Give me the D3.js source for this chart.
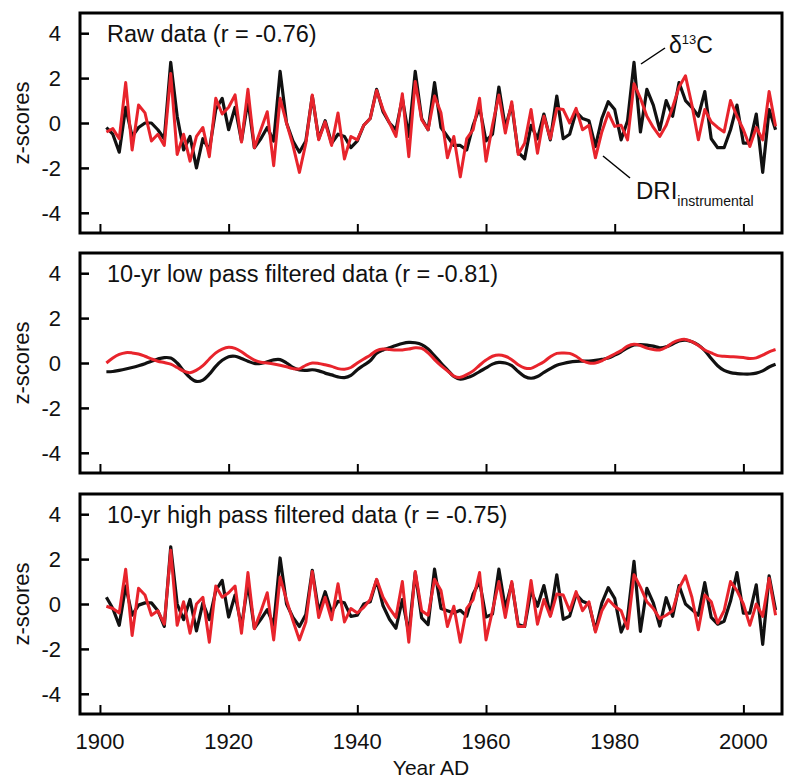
<!DOCTYPE html>
<html>
<head>
<meta charset="utf-8">
<script src="https://cdn.jsdelivr.net/npm/d3@7"></script>
<style>
  body { margin: 0; background: #fff; }
  text { font-family: "Liberation Sans", Arial, sans-serif; fill: #111; }
</style>
</head>
<body>
<div id="container"></div>
<script>
// years 1901..2005
const startYear = 1901;

const rawD13C = [-0.2, -0.5, -1.3, 0.7, -0.6, -0.2, 0.0, 0.0, -0.3, -0.7,
  2.7, 0.3, -1.2, -0.6, -2.0, -0.7, -1.2, 0.6, 1.1, -0.3,
  0.7, -0.8, 1.0, -1.1, -0.7, -0.2, -0.8, 2.3, 0.0, -0.8,
  -1.3, -0.8, 1.2, -0.7, 0.1, -0.9, -0.5, -0.6, -1.1, -0.8,
  -0.1, 0.2, 1.5, 0.5, 0.0, -0.3, 1.1, -0.6, 2.3, 0.2,
  -0.3, 1.8, -0.2, -0.6, -1.0, -1.0, -1.2, -0.1, 0.7, -0.8,
  -0.5, 1.6, -0.2, 0.8, -1.3, -1.6, -0.1, -0.7, 0.4, -0.75,
  1.2, -0.7, -0.5, 0.5, 0.2, 0.1, -1.05, 0.2, 0.95, 0.6,
  -0.75, 0.1, 2.7, -0.4, 1.5, 0.8, -0.3, 1.0, 0.3, 1.8,
  1.0, 0.7, 0.3, 1.4, -0.7, -1.1, -1.1, -0.3, 0.8, -0.9,
  -0.9, 0.4, -2.2, 0.6, -0.3];

const rawDRI = [-0.4, -0.25, -0.7, 1.8, -1.2, 0.8, 0.45, -0.8, -0.5, -1.0,
  2.2, -1.4, -0.5, -1.7, -0.6, -0.2, -1.5, 1.1, 0.4, 0.7,
  1.25, -0.85, 1.5, -1.1, -0.3, 0.5, -1.9, 1.1, 0.0, -1.0,
  -2.2, -0.9, 1.25, -0.75, 0.05, -1.0, 0.45, -1.6, -0.6, -0.75,
  -0.1, 0.2, 1.45, 0.6, 0.0, -0.6, 1.3, -1.5, 1.85, 0.15,
  -0.3, 1.2, 0.45, -1.55, -0.6, -2.4, -0.7, -0.3, 1.1, -1.7,
  -0.1, 1.25, -0.45, 0.95, -1.4, -0.9, 0.6, -1.35, 0.3, -0.7,
  0.65, 0.6, 0.0, 0.65, -0.3, -0.1, -1.55, -0.4, 0.45, -0.15,
  -0.1, -0.75, 1.75, 1.1, 0.3, -0.2, -0.6, -0.1, 0.7, 1.6,
  2.1, 0.8, -0.75, 0.6, 0.05, -0.2, -0.4, 1.0, 0.3, -0.3,
  -1.05, -0.2, -0.75, 1.4, -0.15];

const lowD13C = [-0.39, -0.38, -0.33, -0.27, -0.2, -0.12, -0.03, 0.08, 0.18, 0.24,
  0.22, 0.0, -0.35, -0.65, -0.82, -0.76, -0.5, -0.15, 0.12, 0.28,
  0.3, 0.2, 0.08, -0.02, -0.02, 0.05, 0.14, 0.15, 0.0, -0.2,
  -0.31, -0.33, -0.3, -0.35, -0.45, -0.53, -0.62, -0.65, -0.55, -0.3,
  -0.1, 0.1, 0.43, 0.58, 0.68, 0.78, 0.87, 0.92, 0.9, 0.82,
  0.62, 0.32, 0.0, -0.3, -0.6, -0.72, -0.66, -0.55, -0.38, -0.22,
  -0.05, 0.03, 0.0, -0.12, -0.38, -0.6, -0.68, -0.6, -0.42, -0.25,
  -0.1, -0.02, 0.04, 0.07, 0.08, 0.09, 0.12, 0.16, 0.22, 0.35,
  0.5, 0.68, 0.8, 0.82, 0.8, 0.75, 0.68, 0.72, 0.85, 0.98,
  1.02, 0.95, 0.8, 0.55, 0.2, -0.12, -0.33, -0.43, -0.47, -0.49,
  -0.49, -0.45, -0.35, -0.18, -0.06];

const lowDRI = [0.0, 0.22, 0.38, 0.46, 0.45, 0.4, 0.3, 0.18, 0.08, 0.02,
  -0.05, -0.2, -0.36, -0.43, -0.32, -0.12, 0.18, 0.45, 0.62, 0.7,
  0.65, 0.5, 0.3, 0.13, 0.03, 0.0, -0.04, -0.1, -0.17, -0.25,
  -0.26, -0.1, 0.0, -0.02, -0.08, -0.15, -0.25, -0.28, -0.2, 0.0,
  0.18, 0.35, 0.55, 0.62, 0.6, 0.58, 0.58, 0.62, 0.68, 0.65,
  0.45, 0.15, -0.12, -0.35, -0.58, -0.64, -0.52, -0.35, -0.1, 0.13,
  0.3, 0.36, 0.3, 0.15, -0.08, -0.22, -0.24, -0.1, 0.06, 0.28,
  0.43, 0.45, 0.43, 0.3, 0.1, 0.0, 0.0, 0.1, 0.25, 0.4,
  0.55, 0.75, 0.83, 0.78, 0.66, 0.6, 0.58, 0.7, 0.9, 1.02,
  1.05, 0.95, 0.78, 0.58, 0.45, 0.33, 0.3, 0.28, 0.27, 0.24,
  0.2, 0.23, 0.35, 0.5, 0.6];

const highD13C = [0.3, -0.2, -0.95, 0.8, -0.5, -0.05, 0.05, 0.05, -0.3, -1.0,
  2.55, 0.0, -0.7, 0.2, -1.2, 0.05, -0.7, 0.6, 1.05, -0.58,
  0.4, -1.0, 0.92, -1.08, -0.68, -0.25, -0.94, 2.05, 0.0, -0.6,
  -1.0, -0.47, 1.5, -0.35, 0.55, -0.37, 0.12, 0.05, -0.55, -0.5,
  0.0, 0.1, 1.07, -0.08, -0.68, -1.08, 0.2, -1.3, 1.4, -0.62,
  -0.92, 1.55, -0.2, -0.3, -0.4, -0.28, -0.54, 0.45, 1.0, -0.58,
  -0.45, 1.55, -0.2, 0.92, -0.92, -1.0, 0.58, -0.1, 0.82, -0.5,
  1.3, -0.68, -0.54, 0.43, 0.12, 0.0, -1.17, 0.04, 0.73, 0.25,
  -1.25, -0.6, 1.9, -1.22, 0.7, 0.05, -0.98, 0.28, -0.55, 0.82,
  0.0, -0.25, -0.5, 0.95, -0.6, -0.9, -0.77, 0.13, 1.4, -0.41,
  -0.41, 0.85, -1.8, 1.25, -0.27];

const highDRI = [-0.1, -0.2, -0.4, 1.55, -1.4, 0.7, 0.4, -0.5, -0.3, -0.9,
  2.4, -0.95, 0.1, -1.3, 0.0, 0.3, -1.7, 0.8, 0.3, 0.5,
  0.8, -1.3, 1.4, -1.1, -0.33, 0.5, -1.6, 1.2, 0.17, -0.75,
  -1.6, -0.8, 1.45, -0.6, 0.3, -0.7, 0.9, -0.8, -0.2, -0.4,
  -0.15, 0.2, 1.1, 0.3, -0.2, -0.6, 1.0, -1.7, 1.45, -0.3,
  -0.5, 1.1, 0.6, -1.0, -0.1, -1.7, -0.2, 0.2, 1.4, -1.6,
  -0.3, 1.0, -0.6, 1.0, -1.0, -1.0, 1.05, -0.9, 0.2, -0.55,
  0.45, 0.4, -0.3, 0.55, -0.3, 0.1, -1.25, -0.3, 0.2, -0.1,
  -0.3, -1.1, 1.3, 0.75, 0.1, -0.2, -0.65, -0.5, -0.3, 0.7,
  1.25, 0.3, -1.15, 0.4, 0.1, -0.85, -0.3, 1.0, 0.6, 0.0,
  -0.95, 0.0, -0.55, 1.15, -0.5];

const panelTitles = [
  'Raw data (r = -0.76)',
  '10-yr low pass filtered data (r = -0.81)',
  '10-yr high pass filtered data (r = -0.75)'
];
const yTicks = [-4, -2, 0, 2, 4];
const xTicks = [1900, 1920, 1940, 1960, 1980, 2000];

const w = 789;
const h = 781;
const left = 80;
const right = 782;
const panelTops = [13, 253, 494];
const panelH = 220;

const svg = d3.select('#container')
  .append('svg')
    .attr('width', w)
    .attr('height', h)
    .attr('viewBox', [0, 0, w, h]);

const x = d3.scaleLinear()
  .domain([1896.9, 2006.0])
  .range([left, right]);

const panels = [
  { black: rawD13C, red: rawDRI, curve: d3.curveLinear },
  { black: lowD13C, red: lowDRI, curve: d3.curveCatmullRom },
  { black: highD13C, red: highDRI, curve: d3.curveLinear }
];

const red = '#e8242c';

panels.forEach((p, i) => {
  const top = panelTops[i];
  const y = d3.scaleLinear()
    .domain([-4.9, 4.9])
    .range([top + panelH, top]);

  const g = svg.append('g');

  // y axis, ticks pointing in
  g.append('g')
    .attr('transform', 'translate(' + left + ', 0)')
    .call(d3.axisRight(y).tickValues(yTicks).tickSize(9).tickFormat(''))
    .call(a => a.select('.domain').remove())
    .call(a => a.selectAll('line').attr('stroke', '#000').attr('stroke-width', 2.5));

  g.selectAll('.ylab')
    .data(yTicks)
    .enter()
    .append('text')
    .attr('x', 61)
    .attr('y', d => y(d))
    .attr('dy', '0.36em')
    .attr('text-anchor', 'end')
    .style('font-size', '22px')
    .text(d => d);

  // x axis ticks pointing up
  g.append('g')
    .attr('transform', 'translate(0, ' + (top + panelH) + ')')
    .call(d3.axisTop(x).tickValues(xTicks).tickSize(9).tickFormat(''))
    .call(a => a.select('.domain').remove())
    .call(a => a.selectAll('line').attr('stroke', '#000').attr('stroke-width', 2));

  g.append('text')
    .attr('transform', 'rotate(-90)')
    .attr('x', -(top + panelH / 2))
    .attr('y', 29)
    .attr('text-anchor', 'middle')
    .style('font-size', '22px')
    .text('z-scores');

  const line = d3.line()
    .x((d, j) => x(startYear + j))
    .y(d => y(d))
    .curve(p.curve);

  g.append('path')
    .datum(p.black)
    .attr('d', line)
    .attr('fill', 'none')
    .attr('stroke', '#111')
    .attr('stroke-width', 3.2)
    .attr('stroke-linejoin', 'round');

  g.append('path')
    .datum(p.red)
    .attr('d', line)
    .attr('fill', 'none')
    .attr('stroke', red)
    .attr('stroke-width', 3)
    .attr('stroke-linejoin', 'round');

  g.append('rect')
    .attr('x', left)
    .attr('y', top)
    .attr('width', right - left)
    .attr('height', panelH)
    .attr('fill', 'none')
    .attr('stroke', '#000')
    .attr('stroke-width', 3);

  g.append('text')
    .attr('x', 107)
    .attr('y', top + 29)
    .style('font-size', '23.5px')
    .text(panelTitles[i]);

  if (i === 2) {
    g.selectAll('.xlab')
      .data(xTicks)
      .enter()
      .append('text')
      .attr('x', d => x(d))
      .attr('y', 749)
      .attr('text-anchor', 'middle')
      .style('font-size', '22px')
      .text(d => d);
  }
});

// annotations in the raw panel
svg.append('line')
  .attr('x1', 641).attr('y1', 64)
  .attr('x2', 665).attr('y2', 48)
  .attr('stroke', '#000').attr('stroke-width', 1.5);

const d13 = svg.append('text')
  .attr('x', 669)
  .attr('y', 53)
  .style('font-size', '23px');
d13.append('tspan').text('δ');
d13.append('tspan').attr('dy', -9).style('font-size', '13px').text('13');
d13.append('tspan').attr('dy', 9).text('C');

svg.append('line')
  .attr('x1', 603).attr('y1', 156)
  .attr('x2', 630).attr('y2', 178)
  .attr('stroke', '#000').attr('stroke-width', 1.5);

const dri = svg.append('text')
  .attr('x', 636)
  .attr('y', 199)
  .style('font-size', '24px');
dri.append('tspan').text('DRI');
dri.append('tspan').attr('dy', 7).style('font-size', '14px').text('instrumental');

svg.append('text')
  .attr('x', 431)
  .attr('y', 775)
  .attr('text-anchor', 'middle')
  .style('font-size', '21px')
  .text('Year AD');
</script>
</body>
</html>
